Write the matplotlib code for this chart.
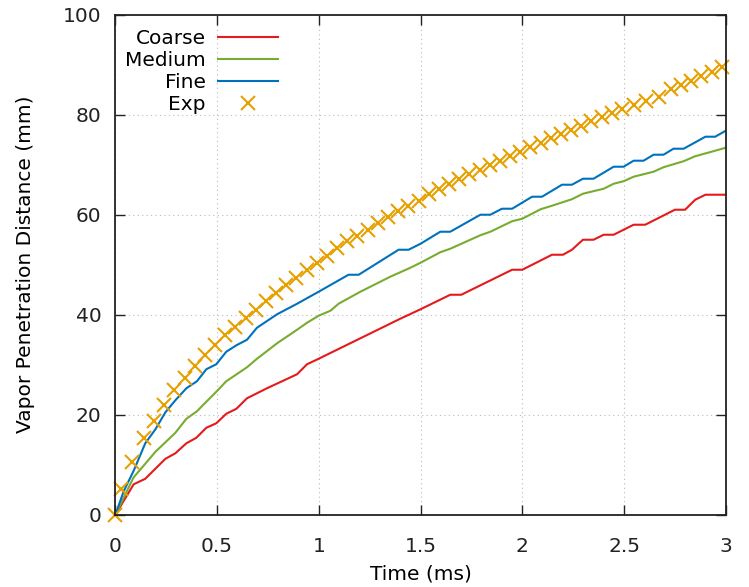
import numpy as np
import matplotlib
matplotlib.use('Agg')
from matplotlib import pyplot as plt

# time (ms) / penetration (mm)
coarse_t = [0, 0.09, 0.147, 0.246, 0.295, 0.349, 0.398, 0.447, 0.496, 0.545, 0.595, 0.647,
            0.696, 0.745, 0.893, 0.942, 0.999, 1.40, 1.5, 1.646, 1.70, 1.95, 2.0, 2.146,
            2.20, 2.244, 2.298, 2.35, 2.40, 2.449, 2.547, 2.604, 2.75, 2.80, 2.85, 2.90, 3.0]
coarse_y = [0, 6.1, 7.2, 11.2, 12.3, 14.3, 15.4, 17.4, 18.3, 20.2, 21.2, 23.3,
            24.3, 25.3, 28.1, 30.1, 31.2, 39.2, 41.1, 44.0, 44.0, 49.0, 49.0, 52.0,
            52.0, 53.0, 55.0, 55.0, 56.0, 56.0, 58.0, 58.0, 61.0, 61.0, 63.0, 64.0, 64.0]

medium_t = [0, 0.09, 0.147, 0.197, 0.295, 0.349, 0.401, 0.447, 0.496, 0.545, 0.647, 0.696,
            0.795, 0.893, 0.942, 0.999, 1.057, 1.097, 1.204, 1.253, 1.351, 1.45, 1.5, 1.597,
            1.646, 1.794, 1.843, 1.95, 2.0, 2.09, 2.146, 2.244, 2.298, 2.40, 2.449, 2.498,
            2.547, 2.645, 2.694, 2.793, 2.85, 2.948, 3.0]
medium_y = [0, 7.5, 10.2, 12.6, 16.4, 19.2, 20.7, 22.6, 24.6, 26.7, 29.5, 31.2,
            34.3, 37.0, 38.4, 39.8, 40.8, 42.2, 44.6, 45.6, 47.6, 49.4, 50.4, 52.5,
            53.2, 55.9, 56.6, 58.7, 59.2, 61.1, 61.8, 63.1, 64.2, 65.2, 66.2, 66.7,
            67.6, 68.6, 69.5, 70.7, 71.7, 72.8, 73.4]

fine_t = [0, 0.041, 0.09, 0.147, 0.197, 0.246, 0.295, 0.349, 0.401, 0.447, 0.496, 0.545,
          0.595, 0.647, 0.696, 0.795, 0.893, 0.999, 1.146, 1.196, 1.392, 1.441, 1.5, 1.597,
          1.646, 1.794, 1.843, 1.90, 1.95, 2.048, 2.097, 2.195, 2.244, 2.298, 2.35, 2.449,
          2.498, 2.547, 2.596, 2.645, 2.694, 2.743, 2.793, 2.90, 2.948, 3.0]
fine_y = [0, 4.7, 8.8, 14.3, 17.1, 20.5, 22.9, 25.3, 26.7, 29.1, 30.1, 32.6,
          33.9, 35.0, 37.4, 40.1, 42.2, 44.6, 48.0, 48.0, 53.0, 53.0, 54.2, 56.6,
          56.6, 60.0, 60.0, 61.2, 61.2, 63.6, 63.6, 66.0, 66.0, 67.2, 67.2, 69.6,
          69.6, 70.8, 70.8, 72.0, 72.0, 73.2, 73.2, 75.6, 75.6, 76.8]

exp_t = [0, 0.03, 0.08, 0.14, 0.19, 0.24, 0.29, 0.34, 0.39, 0.44, 0.49, 0.54, 0.59, 0.64,
         0.69, 0.74, 0.79, 0.84, 0.89, 0.94, 0.99, 1.04, 1.09, 1.14, 1.19, 1.24, 1.29,
         1.34, 1.39, 1.44, 1.49, 1.54, 1.59, 1.64, 1.69, 1.74, 1.79, 1.84, 1.89, 1.94,
         1.99, 2.04, 2.09, 2.14, 2.19, 2.24, 2.29, 2.34, 2.39, 2.44, 2.49, 2.55, 2.61,
         2.67, 2.73, 2.78, 2.83, 2.88, 2.93, 2.98]
exp_y = [0, 5.2, 10.5, 15.4, 18.8, 22.0, 25.0, 27.4, 29.8, 32.0, 34.0, 36.0, 37.6, 39.3,
         40.9, 42.8, 44.4, 45.9, 47.4, 48.9, 50.3, 51.8, 53.3, 54.7, 55.7, 57.0, 58.3,
         59.5, 60.8, 61.8, 62.8, 64.1, 65.1, 66.1, 67.1, 68.1, 69.0, 70.0, 70.8, 71.8,
         72.6, 73.5, 74.4, 75.3, 76.2, 77.0, 77.8, 78.7, 79.5, 80.3, 81.1, 81.9, 82.7,
         83.6, 85.2, 86.0, 86.8, 87.7, 88.6, 89.6]

xticks = [0, 0.5, 1, 1.5, 2, 2.5, 3]
xticklabels = ['0', '0.5', '1', '1.5', '2', '2.5', '3']
yticks = [0, 20, 40, 60, 80, 100]

plt.rcParams['font.family'] = ['DejaVu Sans']
plt.rcParams['font.size'] = 14.5

fig = plt.figure(figsize=(7.49, 5.87), dpi=100)
ax = fig.add_axes([0.154, 0.123, 0.815, 0.852])

ax.plot(coarse_t, coarse_y, color='#e41a1c', lw=1.5, label='Coarse')
ax.plot(medium_t, medium_y, color='#77ac30', lw=1.5, label='Medium')
ax.plot(fine_t, fine_y, color='#0072bd', lw=1.5, label='Fine')
ax.plot(exp_t, exp_y, ls='none', marker='x', ms=9.5, mew=1.5, color='#e6a000', label='Exp',
        clip_on=False)

ax.set_xlim(0, 3)
ax.set_ylim(0, 100)
ax.set_xticks(xticks)
ax.set_xticklabels(xticklabels)
ax.set_yticks(yticks)
ax.tick_params(axis='x', pad=16)
ax.tick_params(axis='y', pad=10)
ax.tick_params(direction='in', length=7, width=1, top=True, right=True, colors='#222222')
for s in ax.spines.values():
    s.set_linewidth(1.3)
    s.set_color('#222222')
ax.grid(True, ls=(0, (1, 3)), color='#bbbbbb', lw=0.8)

ax.set_xlabel('Time (ms)', labelpad=6)
ax.set_ylabel('Vapor Penetration Distance (mm)', labelpad=20)

leg = ax.legend(loc='upper left', bbox_to_anchor=(-0.007, 1.0), frameon=False, markerfirst=False,
                handlelength=3.0, handletextpad=0.6, labelspacing=0.16, borderaxespad=0.3)

fig.savefig('out.png', dpi=100)
